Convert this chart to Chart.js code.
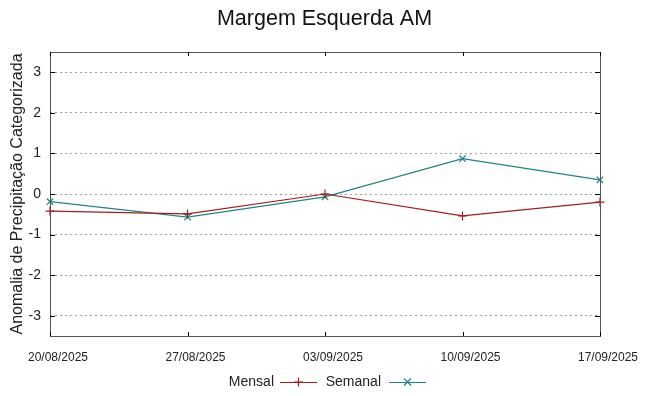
<!DOCTYPE html>
<html>
<head>
<meta charset="utf-8">
<script src="https://cdn.jsdelivr.net/npm/chart.js@4.4.0/dist/chart.umd.min.js"></script>
<style>
  html, body { margin: 0; padding: 0; background: #fff; }
  #wrap { width: 649px; height: 396px; }
</style>
</head>
<body>
<div id="wrap"><canvas id="chart" width="649" height="396"></canvas></div>
<script>
// Data
const dates = ["20/08/2025", "27/08/2025", "03/09/2025", "10/09/2025", "17/09/2025"];
const mensal = [-0.42, -0.49, 0.0, -0.54, -0.2];
const semanal = [-0.19, -0.57, -0.07, 0.87, 0.35];
const yTicks = [-3, -2, -1, 0, 1, 2, 3];

const title = "Margem Esquerda AM";
const red = "#a51c1c";
const teal = "#1f8585";
const font = "'Liberation Sans', Arial, sans-serif";

// title, box, inward ticks and legend like gnuplot
const frame = {
    id: "frame",
    afterDatasetsDraw(chart) {
        const ctx = chart.ctx;
        const a = chart.chartArea;
        const x = chart.scales.x, y = chart.scales.y;
        ctx.save();

        ctx.font = "21.5px " + font;
        ctx.fillStyle = "#111";
        ctx.textAlign = "center";
        ctx.textBaseline = "middle";
        ctx.fillText(title, chart.width / 2, 19);

        ctx.strokeStyle = "#555";
        ctx.lineWidth = 1;
        ctx.strokeRect(a.left + 0.5, a.top + 0.5, a.right - a.left, a.bottom - a.top);
        ctx.strokeStyle = "#000";
        ctx.beginPath();
        yTicks.forEach(v => {
            const py = Math.round(y.getPixelForValue(v)) + 0.5;
            ctx.moveTo(a.left, py); ctx.lineTo(a.left + 5, py);
            ctx.moveTo(a.right, py); ctx.lineTo(a.right - 5, py);
        });
        dates.forEach((d, i) => {
            const px = Math.round(x.getPixelForValue(i)) + 0.5;
            ctx.moveTo(px, a.bottom); ctx.lineTo(px, a.bottom - 4);
            ctx.moveTo(px, a.top); ctx.lineTo(px, a.top + 4);
        });
        ctx.stroke();

        // legend
        const ly = 382;
        ctx.font = "14px " + font;
        ctx.fillStyle = "#222";
        ctx.textBaseline = "middle";
        ctx.textAlign = "right";
        const items = [
            { label: "Mensal", color: red, style: "cross", textEnd: 274, x0: 280, x1: 317 },
            { label: "Semanal", color: teal, style: "crossRot", textEnd: 381, x0: 389, x1: 426 }
        ];
        items.forEach(it => {
            ctx.fillText(it.label, it.textEnd, ly);
            ctx.strokeStyle = it.color;
            ctx.lineWidth = 1.2;
            ctx.beginPath();
            ctx.moveTo(it.x0, ly + 0.5); ctx.lineTo(it.x1, ly + 0.5);
            ctx.stroke();
            const mx = (it.x0 + it.x1) / 2;
            ctx.beginPath();
            if (it.style === "cross") {
                ctx.moveTo(mx, ly - 4.5); ctx.lineTo(mx, ly + 4.5);
                ctx.moveTo(mx - 4.5, ly); ctx.lineTo(mx + 4.5, ly);
            } else {
                ctx.moveTo(mx - 3.5, ly - 3.5); ctx.lineTo(mx + 3.5, ly + 3.5);
                ctx.moveTo(mx - 3.5, ly + 3.5); ctx.lineTo(mx + 3.5, ly - 3.5);
            }
            ctx.stroke();
        });
        ctx.restore();
    }
};

new Chart(document.getElementById("chart"), {
    type: "line",
    data: {
        labels: dates,
        datasets: [
            {
                label: "Mensal",
                data: mensal,
                borderColor: red,
                backgroundColor: red,
                borderWidth: 1.2,
                pointStyle: "cross",
                pointRadius: 4.5,
                pointBorderWidth: 1.2,
                tension: 0
            },
            {
                label: "Semanal",
                data: semanal,
                borderColor: teal,
                backgroundColor: teal,
                borderWidth: 1.2,
                pointStyle: "crossRot",
                pointRadius: 4.5,
                pointBorderWidth: 1.2,
                tension: 0
            }
        ]
    },
    options: {
        responsive: false,
        animation: false,
        layout: { padding: { left: 0, right: 49, top: 52, bottom: 0 } },
        plugins: {
            legend: { display: false },
            tooltip: { enabled: false },
            title: { display: false }
        },
        scales: {
            x: {
                type: "category",
                offset: false,
                grid: { display: false, drawTicks: false },
                border: { display: false },
                ticks: {
                    color: "#222",
                    font: { family: font, size: 12 },
                    padding: 14,
                    labelOffset: 8,
                    maxRotation: 0,
                    autoSkip: false
                },
                afterFit: s => { s.height = 60; }
            },
            y: {
                min: -3.5,
                max: 3.5,
                afterBuildTicks: s => { s.ticks = yTicks.map(v => ({ value: v })); },
                grid: { color: "#a0a0a0", lineWidth: 1, drawTicks: false },
                border: { display: false, dash: [2, 3] },
                ticks: {
                    color: "#222",
                    font: { family: font, size: 14 },
                    padding: 9
                },
                title: {
                    display: true,
                    text: "Anomalia de Precipitação Categorizada",
                    color: "#222",
                    font: { family: font, size: 16 },
                    padding: { top: 8, bottom: 0 }
                },
                afterFit: s => { s.width = 50; }
            }
        }
    },
    plugins: [frame]
});
</script>
</body>
</html>
